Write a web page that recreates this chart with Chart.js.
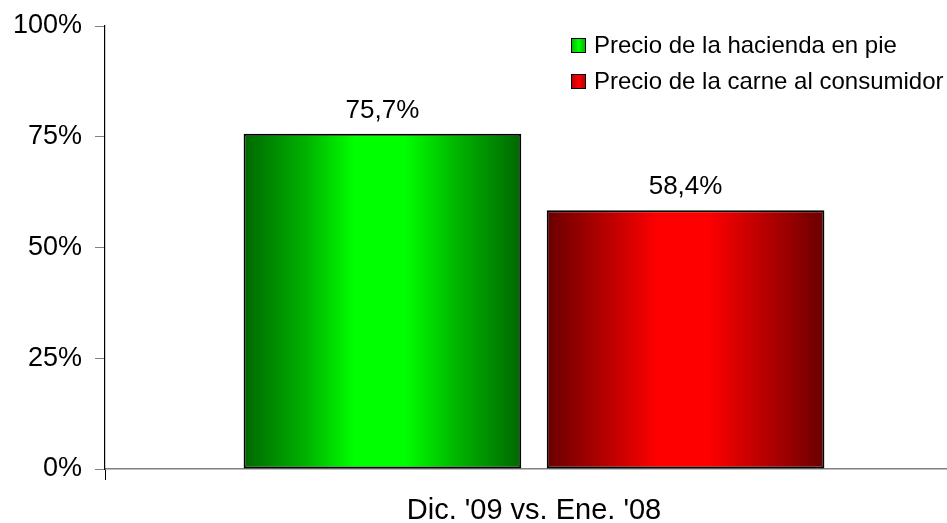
<!DOCTYPE html>
<html>
<head>
<meta charset="utf-8">
<script src="https://cdn.jsdelivr.net/npm/chart.js@4.4.0/dist/chart.umd.min.js"></script>
<style>
  html, body { margin: 0; padding: 0; background: #fff; overflow: hidden; }
  #wrap { width: 947px; height: 523px; overflow: hidden; }
</style>
</head>
<body>
<div id="wrap">
  <canvas id="chart" width="963" height="523"></canvas>
</div>
<script>
const categories = ["Dic. '09 vs. Ene. '08"];
const seriesNames = ['Precio de la hacienda en pie', 'Precio de la carne al consumidor'];
const hacienda = [75.7];
const carne = [58.4];
const yTicks = [0, 25, 50, 75, 100];

const FONT = "'Liberation Sans', Arial, sans-serif";

const palette = [
  { dark: '#006800', mid: '#00b000', light: '#00ff00' },
  { dark: '#6a0000', mid: '#b80000', light: '#ff0000' },
];

function barGradient(idx) {
  return function (c) {
    const chart = c.chart;
    const p = palette[idx];
    if (!chart.chartArea) return p.light;
    const ctrl = chart.getDatasetMeta(c.datasetIndex).controller;
    const px = ctrl._calculateBarIndexPixels(c.dataIndex || 0, ctrl._getRuler());
    const left = px.center - px.size / 2;
    const right = px.center + px.size / 2;
    const g = chart.ctx.createLinearGradient(left, 0, right, 0);
    g.addColorStop(0, p.dark);
    g.addColorStop(0.22, p.mid);
    g.addColorStop(0.4, p.light);
    g.addColorStop(0.58, p.light);
    g.addColorStop(0.78, p.mid);
    g.addColorStop(1, p.dark);
    return g;
  };
}

function fmt(v) {
  return v.toFixed(1).replace('.', ',') + '%';
}

// value labels above each bar
const valueLabels = {
  id: 'valueLabels',
  afterDatasetsDraw(chart) {
    const ctx = chart.ctx;
    ctx.save();
    ctx.font = '26px ' + FONT;
    ctx.fillStyle = '#000';
    ctx.textAlign = 'center';
    ctx.textBaseline = 'alphabetic';
    chart.data.datasets.forEach((ds, i) => {
      chart.getDatasetMeta(i).data.forEach((bar, j) => {
        ctx.fillText(fmt(ds.data[j]), bar.x, bar.y - 16);
      });
    });
    ctx.restore();
  },
};

// legend drawn in the top right corner of the plot
const cornerLegend = {
  id: 'cornerLegend',
  afterDraw(chart) {
    const ctx = chart.ctx;
    ctx.save();
    ctx.font = '24px ' + FONT;
    ctx.textBaseline = 'middle';
    ctx.textAlign = 'left';
    const rows = [45, 81];
    chart.data.datasets.forEach((ds, i) => {
      const y = rows[i];
      const p = palette[i];
      const g = ctx.createLinearGradient(571, 0, 586, 0);
      g.addColorStop(0, p.mid);
      g.addColorStop(0.5, p.light);
      g.addColorStop(1, p.mid);
      ctx.fillStyle = g;
      ctx.fillRect(571, y - 7, 15, 15);
      ctx.strokeStyle = '#000';
      ctx.lineWidth = 1;
      ctx.strokeRect(571.5, y - 6.5, 14, 14);
      ctx.fillStyle = '#000';
      ctx.fillText(ds.label, 594, y + 1);
    });
    ctx.restore();
  },
};

new Chart(document.getElementById('chart'), {
  type: 'bar',
  data: {
    labels: categories,
    datasets: [
      {
        label: seriesNames[0],
        data: hacienda,
        backgroundColor: barGradient(0),
        borderColor: '#000',
        borderWidth: 2,
        borderSkipped: false,
      },
      {
        label: seriesNames[1],
        data: carne,
        backgroundColor: barGradient(1),
        borderColor: '#000',
        borderWidth: 2,
        borderSkipped: false,
      },
    ],
  },
  options: {
    responsive: false,
    animation: false,
    events: [],
    layout: { padding: { top: 26, left: 0, right: 0, bottom: 0 } },
    datasets: {
      bar: { categoryPercentage: 0.7066, barPercentage: 0.916 },
    },
    plugins: {
      legend: { display: false },
      tooltip: { enabled: false },
    },
    scales: {
      x: {
        offset: true,
        grid: {
          offset: true,
          drawOnChartArea: false,
          drawTicks: true,
          tickLength: 11,
          color: '#000',
        },
        border: { color: '#808080', width: 1.5 },
        ticks: {
          padding: 14,
          color: '#000',
          font: { family: FONT, size: 29 },
        },
        afterFit(scale) { scale.height = 54; },
      },
      y: {
        min: 0,
        max: 100,
        afterBuildTicks(scale) {
          scale.ticks = yTicks.map((v) => ({ value: v }));
        },
        grid: {
          drawOnChartArea: false,
          drawTicks: true,
          tickLength: 10,
          color: '#808080',
        },
        border: { color: '#000', width: 1.2 },
        ticks: {
          padding: 13,
          color: '#000',
          font: { family: FONT, size: 27 },
          callback: (v) => v + '%',
        },
        afterFit(scale) {
          scale.width = 105;
          scale.paddingTop = 0;
          scale.paddingBottom = 0;
        },
      },
    },
  },
  plugins: [valueLabels, cornerLegend],
});
</script>
</body>
</html>
